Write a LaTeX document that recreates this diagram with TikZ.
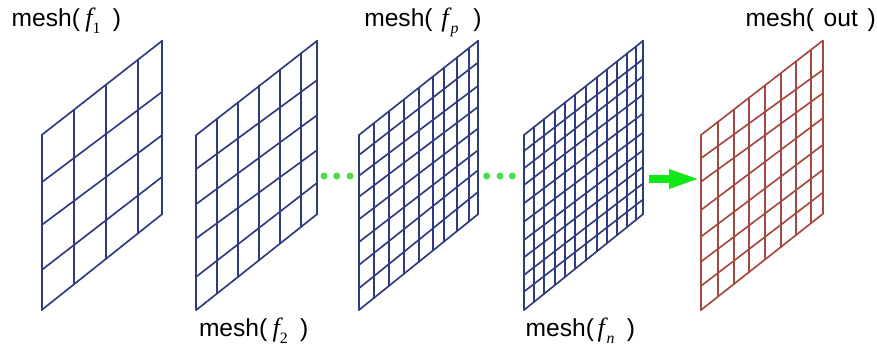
\documentclass[tikz,border=0pt]{standalone}
\usepackage{fontspec}
\setmainfont{Liberation Sans}
\newfontfamily\serifit{Liberation Serif Italic}
\newfontfamily\serifup{Liberation Serif}
\usepackage{xcolor}
\usetikzlibrary{arrows.meta}

\definecolor{meshblue}{RGB}{48,58,128}
\definecolor{meshred}{RGB}{165,72,66}
\definecolor{dotgreen}{RGB}{72,222,72}
\definecolor{arrowgreen}{RGB}{18,232,24}

\tikzset{
  meshline/.style={line width=0.95pt, line cap=round},
  meshlabel/.style={anchor=base west, inner sep=0pt, outer sep=0pt, font=\fontsize{14}{16}\selectfont},
  greendot/.style={circle, fill=dotgreen, inner sep=0pt, minimum size=0.14cm}
}

% gap, f, small subscript, gap, closing bracket
\newcommand{\meshf}[3]{\hspace{#1}{\serifit\fontsize{15}{15}\selectfont f}\raisebox{-4pt}{\fontsize{9}{9}\selectfont #2}\hspace{#3})}

% colour, left x, right x, columns, rows (left y/right y)
\newcommand{\drawmesh}[5]{
  \foreach \xa in {#4} {
    \pgfmathsetmacro{\ytop}{135+(\xa-#2)/(#3-#2)*(40.7-135)}
    \pgfmathsetmacro{\ybot}{310+(\xa-#2)/(#3-#2)*(214-310)}
    \draw[meshline,#1] (\xa,\ytop) -- (\xa,\ybot);
  }
  \foreach \ya/\yb in {#5} {
    \draw[meshline,#1] (#2,\ya) -- (#3,\yb);
  }
}

\begin{document}
\begin{tikzpicture}[x=0.02cm,y=-0.02cm]

\useasboundingbox (0,0) rectangle (877,352);

% Mesh f1
\drawmesh{meshblue}{41.7}{162.3}{41.7,74,106,138,162.3}
  {135/40.7,182.3/91.7,225/135,270/176.7,310/214}

% Mesh f2
\drawmesh{meshblue}{196.3}{317.3}{196.3,217.3,238.3,259.3,280,301,317.3}
  {135/40.7,169/80,204/115,238.3/150,276.7/182.7,310/214}

% Mesh fp
\drawmesh{meshblue}{359}{478.3}{359,373.7,388.7,403.7,418.7,433,444.3,457.3,469,478.3}
  {135/40.7,155/62.3,175.7/85.7,196.7/106.7,219.3/128.3,242/150,265/170,288.3/191.7,310/214}

% Mesh fn
\drawmesh{meshblue}{524}{643.3}{524,534,544.3,555.3,565.3,575.3,585.7,596.7,606.7,617,627.3,636.3,643.3}
  {135/40.7,151/59,168.3/76,185/94.3,203.3/113.3,221.7/132.3,240/150,257.3/166.7,275/183.3,291.7/199.3,310/214}

% Mesh out
\drawmesh{meshred}{701}{822.7}{701,718.3,733.7,749.3,765,780.7,796,811,822.7}
  {135/40.7,158.3/70,181.7/93.3,210/118.3,236.7/145,261.7/170,286/192.7,310/214}

% Dots
\foreach \x [count=\i] in {324,336.7,350,486.7,500,512.3} {
  \node[greendot] (dot\i) at (\x,176) {};
}

% Arrow
\coordinate (arrowtail) at (649,179);
\coordinate (arrowhead) at (701,179);
\draw[-{Triangle[length=0.64cm,width=0.34cm]}, arrowgreen, line width=0.17cm] (arrowtail) -- (arrowhead);

% Labels
\node[meshlabel] (labelfa) at (11.7,26) {mesh(\meshf{3pt}{\serifup 1}{7pt}};
\node[meshlabel] (labelfb) at (199,336) {mesh(\meshf{3pt}{\serifup 2}{7pt}};
\node[meshlabel] (labelfp) at (364.3,26) {mesh(\meshf{5pt}{\serifit\kern1pt p}{8.5pt}};
\node[meshlabel] (labelfn) at (525.7,336) {mesh(\meshf{2pt}{\serifit\kern1pt n}{7pt}};
\node[meshlabel] (labelout) at (745.7,26) {mesh(\hspace{5.5pt}out\hspace{5.5pt})};

\end{tikzpicture}
\end{document}
